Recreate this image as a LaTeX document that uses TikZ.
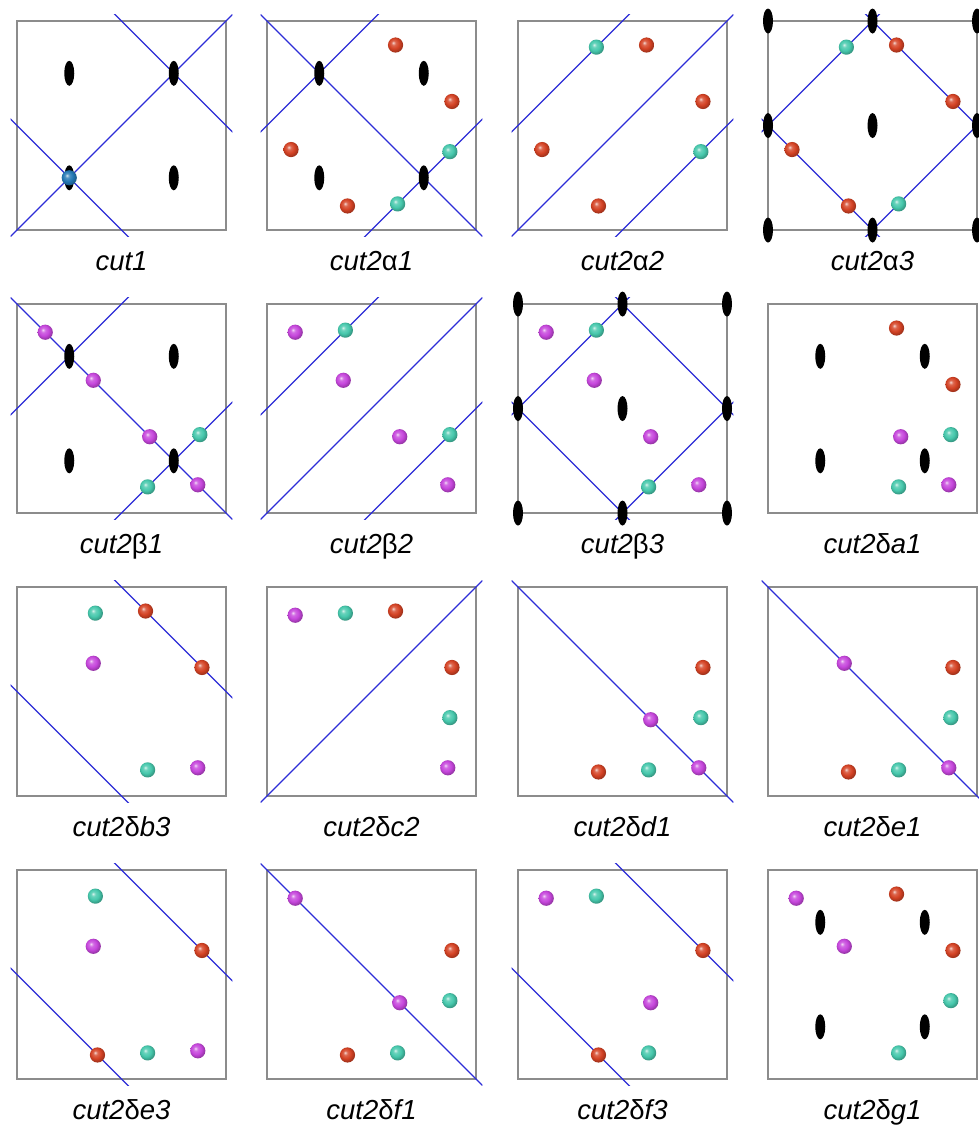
\documentclass[tikz,border=0pt]{standalone}
\usepackage{fontspec}
\setmainfont{Liberation Sans}
\definecolor{cutblue}{RGB}{45,45,215}
\definecolor{framegray}{RGB}{140,140,140}
\definecolor{bred}{RGB}{212,66,36}
\definecolor{bteal}{RGB}{70,200,172}
\definecolor{bmag}{RGB}{198,70,220}
\definecolor{bblue}{RGB}{35,120,180}
\colorlet{ballcol}{bred}
\pgfdeclareradialshading[ballcol]{myball}{\pgfqpoint{-8bp}{8bp}}{%
  color(0bp)=(ballcol!20!white);
  color(7bp)=(ballcol!80!white);
  color(17bp)=(ballcol);
  color(27bp)=(ballcol!75!black);
  color(40bp)=(ballcol!55!black);
  color(50bp)=(ballcol!50!black)}
\tikzset{
  frame/.style={draw=framegray, line width=1.1pt},
  cutline/.style={draw=cutblue, line width=1.3pt},
  lbl/.style={font=\fontsize{27.5}{32}\selectfont, anchor=base, inner sep=0pt},
}
\newcommand\defpts{%
  \coordinate (R1) at (0.615,0.115); \coordinate (R2) at (0.885,0.385);
  \coordinate (R3) at (0.115,0.615); \coordinate (R4) at (0.385,0.885);
  \coordinate (T1) at (0.375,0.125); \coordinate (T2) at (0.875,0.625);
  \coordinate (T3) at (0.625,0.875);
  \coordinate (M1) at (0.135,0.135); \coordinate (M2) at (0.365,0.365);
  \coordinate (M3) at (0.635,0.635); \coordinate (M4) at (0.865,0.865);
  \coordinate (Q1) at (0.25,0.25); \coordinate (Q2) at (0.75,0.25);
  \coordinate (Q3) at (0.25,0.75); \coordinate (Q4) at (0.75,0.75);}
\newenvironment{cell}[2]{\begin{scope}[shift={(#1,#2)},x=209pt,y=-209pt]\defpts
  \draw[frame] (0,0) rectangle (1,1);}{\end{scope}}
\newcommand\Ell[1]{\fill[black] (#1) ellipse [x radius=5pt, y radius=12.5pt];}
\newcommand\Ball[2]{{\colorlet{ballcol}{#1}\shade[shading=myball] (#2) circle (7.6pt);}}
\newcommand\Quad{\Ell{Q1}\Ell{Q2}\Ell{Q3}\Ell{Q4}}
\newcommand\Nine{\foreach \a in {0,0.5,1}{\foreach \b in {0,0.5,1}{\fill[black] (\a,\b) ellipse [x radius=5pt, y radius=12.5pt];}}}
% line u+v=c
\newcommand\LP[1]{\draw[cutline] (-1,#1+1) -- (2,#1-2);}
% line u-v=c
\newcommand\LM[1]{\draw[cutline] (-1,-1-#1) -- (2,2-#1);}
\newenvironment{cuts}{\begin{scope}\clip (-0.03,-0.03) rectangle (1.03,1.03);}{\end{scope}}
\newcommand\DiaCuts{\begin{cuts}\LP{0.5}\LP{1.5}\LM{0.5}\LM{-0.5}\end{cuts}}
\begin{document}
\begin{tikzpicture}[x=1pt,y=-1pt]
\useasboundingbox (0,0) rectangle (979,1136);
\clip (0,0) rectangle (979,1136);
\fill[white] (0,0) rectangle (979,1136);
% ---------- row 1
\begin{cell}{17}{21}
  \begin{cuts}\LP{1}\LM{-0.5}\LM{0.5}\end{cuts}
  \Quad \Ball{bblue}{Q3}
  \node[lbl] (l1) at (0.5,1.196) {\textit{cut1}};
\end{cell}
\begin{cell}{267}{21}
  \begin{cuts}\LP{0.5}\LM{0}\LP{1.5}\end{cuts}
  \Quad
  \Ball{bred}{R1}\Ball{bred}{R2}\Ball{bred}{R3}\Ball{bred}{R4}
  \Ball{bteal}{T2}\Ball{bteal}{T3}
  \node[lbl] (l2) at (0.5,1.196) {\textit{cut2}α\textit{1}};
\end{cell}
\begin{cell}{518}{21}
  \begin{cuts}\LP{0.5}\LP{1}\LP{1.5}\end{cuts}
  \Ball{bred}{R1}\Ball{bred}{R2}\Ball{bred}{R3}\Ball{bred}{R4}
  \Ball{bteal}{T1}\Ball{bteal}{T2}
  \node[lbl] (l3) at (0.5,1.196) {\textit{cut2}α\textit{2}};
\end{cell}
\begin{cell}{768}{21}
  \DiaCuts \Nine
  \Ball{bred}{R1}\Ball{bred}{R2}\Ball{bred}{R3}\Ball{bred}{R4}
  \Ball{bteal}{T1}\Ball{bteal}{T3}
  \node[lbl] (l4) at (0.5,1.196) {\textit{cut2}α\textit{3}};
\end{cell}
% ---------- row 2
\begin{cell}{17}{304}
  \begin{cuts}\LP{0.5}\LM{0}\LP{1.5}\end{cuts}
  \Quad
  \Ball{bmag}{M1}\Ball{bmag}{M2}\Ball{bmag}{M3}\Ball{bmag}{M4}
  \Ball{bteal}{T2}\Ball{bteal}{T3}
  \node[lbl] (l5) at (0.5,1.196) {\textit{cut2}β\textit{1}};
\end{cell}
\begin{cell}{267}{304}
  \begin{cuts}\LP{0.5}\LP{1}\LP{1.5}\end{cuts}
  \Ball{bmag}{M1}\Ball{bmag}{M2}\Ball{bmag}{M3}\Ball{bmag}{M4}
  \Ball{bteal}{T1}\Ball{bteal}{T2}
  \node[lbl] (l6) at (0.5,1.196) {\textit{cut2}β\textit{2}};
\end{cell}
\begin{cell}{518}{304}
  \DiaCuts \Nine
  \Ball{bmag}{M1}\Ball{bmag}{M2}\Ball{bmag}{M3}\Ball{bmag}{M4}
  \Ball{bteal}{T1}\Ball{bteal}{T3}
  \node[lbl] (l7) at (0.5,1.196) {\textit{cut2}β\textit{3}};
\end{cell}
\begin{cell}{768}{304}
  \Quad
  \Ball{bred}{R1}\Ball{bred}{R2}
  \Ball{bmag}{M3}\Ball{bmag}{M4}
  \Ball{bteal}{T2}\Ball{bteal}{T3}
  \node[lbl] (l8) at (0.5,1.196) {\textit{cut2}δ\textit{a1}};
\end{cell}
% ---------- row 3
\begin{cell}{17}{587}
  \begin{cuts}\LM{0.5}\LM{-0.5}\end{cuts}
  \Ball{bteal}{T1}\Ball{bred}{R1}\Ball{bmag}{M2}\Ball{bred}{R2}
  \Ball{bteal}{T3}\Ball{bmag}{M4}
  \node[lbl] (l9) at (0.5,1.196) {\textit{cut2}δ\textit{b3}};
\end{cell}
\begin{cell}{267}{587}
  \begin{cuts}\LP{1}\end{cuts}
  \Ball{bmag}{M1}\Ball{bteal}{T1}\Ball{bred}{R1}\Ball{bred}{R2}
  \Ball{bteal}{T2}\Ball{bmag}{M4}
  \node[lbl] (l10) at (0.5,1.196) {\textit{cut2}δ\textit{c2}};
\end{cell}
\begin{cell}{518}{587}
  \begin{cuts}\LM{0}\end{cuts}
  \Ball{bred}{R2}\Ball{bmag}{M3}\Ball{bteal}{T2}\Ball{bred}{R4}
  \Ball{bteal}{T3}\Ball{bmag}{M4}
  \node[lbl] (l11) at (0.5,1.196) {\textit{cut2}δ\textit{d1}};
\end{cell}
\begin{cell}{768}{587}
  \begin{cuts}\LM{0}\end{cuts}
  \Ball{bmag}{M2}\Ball{bred}{R2}\Ball{bteal}{T2}\Ball{bred}{R4}
  \Ball{bteal}{T3}\Ball{bmag}{M4}
  \node[lbl] (l12) at (0.5,1.196) {\textit{cut2}δ\textit{e1}};
\end{cell}
% ---------- row 4
\begin{cell}{17}{870}
  \begin{cuts}\LM{0.5}\LM{-0.5}\end{cuts}
  \Ball{bteal}{T1}\Ball{bmag}{M2}\Ball{bred}{R2}\Ball{bred}{R4}
  \Ball{bteal}{T3}\Ball{bmag}{M4}
  \node[lbl] (l13) at (0.5,1.196) {\textit{cut2}δ\textit{e3}};
\end{cell}
\begin{cell}{267}{870}
  \begin{cuts}\LM{0}\end{cuts}
  \Ball{bmag}{M1}\Ball{bmag}{M3}\Ball{bred}{R2}\Ball{bteal}{T2}
  \Ball{bred}{R4}\Ball{bteal}{T3}
  \node[lbl] (l14) at (0.5,1.196) {\textit{cut2}δ\textit{f1}};
\end{cell}
\begin{cell}{518}{870}
  \begin{cuts}\LM{0.5}\LM{-0.5}\end{cuts}
  \Ball{bmag}{M1}\Ball{bteal}{T1}\Ball{bred}{R2}\Ball{bmag}{M3}
  \Ball{bred}{R4}\Ball{bteal}{T3}
  \node[lbl] (l15) at (0.5,1.196) {\textit{cut2}δ\textit{f3}};
\end{cell}
\begin{cell}{768}{870}
  \Quad
  \Ball{bmag}{M1}\Ball{bred}{R1}\Ball{bmag}{M2}\Ball{bred}{R2}
  \Ball{bteal}{T2}\Ball{bteal}{T3}
  \node[lbl] (l16) at (0.5,1.196) {\textit{cut2}δ\textit{g1}};
\end{cell}
\end{tikzpicture}
\end{document}
